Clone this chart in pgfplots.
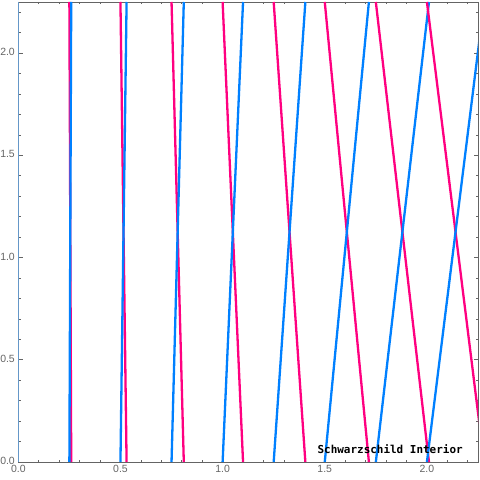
\documentclass[border=0pt]{standalone}
\usepackage{fontspec}
\setmainfont{Liberation Sans}
\newfontfamily\labelmono{DejaVu Sans Mono}
\usepackage{pgfplots}
\pgfplotsset{compat=1.18}

\definecolor{inblue}{RGB}{0,128,255}
\definecolor{inpink}{RGB}{255,0,128}
\definecolor{framegray}{RGB}{100,100,100}

\begin{document}
\begin{tikzpicture}
\begin{axis}[
  scale only axis,
  width=459.7bp, height=460bp,
  xmin=0, xmax=2.25, ymin=0, ymax=2.25,
  xtick={0,0.5,...,2.0}, ytick={0,0.5,...,2.0},
  minor xtick={0,0.1,...,2.25}, minor ytick={0,0.1,...,2.25},
  tick align=inside,
  major tick length=4.5bp, minor tick length=2.5bp,
  every tick/.style={framegray, line width=0.7bp},
  axis line style={framegray, line width=0.9bp},
  xticklabel style={font=\fontsize{10.5}{12}\selectfont, text=framegray, inner sep=0bp, yshift=-3bp},
  yticklabel style={font=\fontsize{10.5}{12}\selectfont, text=framegray, inner sep=0bp, xshift=-3.3bp, yshift=1bp},
  /pgf/number format/assume math mode=true,
  /pgf/number format/fixed, /pgf/number format/fixed zerofill,
  /pgf/number format/precision=1,
  xtick pos=both, ytick pos=both,
  xticklabel pos=lower, yticklabel pos=left,
  every axis plot/.append style={line width=2.3bp},
]
% outgoing (blue) and ingoing (pink) rays, pairs (x0, x1)
\addplot[inblue!60, line width=1.2bp] coordinates {(0,0) (0,2.25)};
\addplot[inpink] coordinates {(0.259,0) (0.25,2.25)};
\addplot[inblue] coordinates {(0.25,0) (0.259,2.25)};
\addplot[inpink] coordinates {(0.53,0) (0.5,2.25)};
\addplot[inblue] coordinates {(0.5,0) (0.53,2.25)};
\addplot[inpink] coordinates {(0.81,0) (0.75,2.25)};
\addplot[inblue] coordinates {(0.75,0) (0.81,2.25)};
\addplot[inpink] coordinates {(1.10,0) (1.0,2.25)};
\addplot[inblue] coordinates {(1.0,0) (1.10,2.25)};
\addplot[inpink] coordinates {(1.405,0) (1.25,2.25)};
\addplot[inblue] coordinates {(1.25,0) (1.405,2.25)};
\addplot[inpink] coordinates {(1.716,0) (1.5,2.25)};
\addplot[inblue] coordinates {(1.5,0) (1.716,2.25)};
\addplot[inpink] coordinates {(2.01,0) (1.75,2.25)};
\addplot[inblue] coordinates {(1.75,0) (2.01,2.25)};
\addplot[inpink] coordinates {(2.28,0) (2.0,2.25)};
\addplot[inblue] coordinates {(2.0,0) (2.28,2.25)};
\node[font=\labelmono\bfseries\fontsize{11}{13}\selectfont, anchor=center]
  at (axis cs:1.82,0.064) {Schwarzschild Interior};
\end{axis}
\pgfresetboundingbox
\path (current axis.south west) ++(-18.3bp,-18bp);
\path (current axis.north east) ++(2bp,2bp);
\end{tikzpicture}
\end{document}
